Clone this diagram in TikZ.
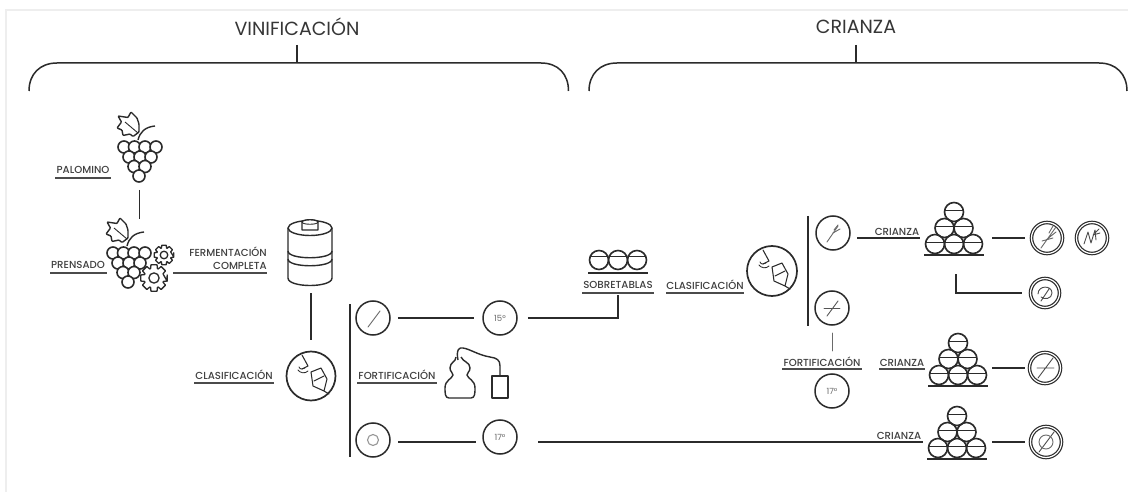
\documentclass[tikz,border=0pt]{standalone}
\usepackage{fontspec}
\setmainfont{Poppins}
\newfontfamily\labfont[UprightFont={* Medium}]{Poppins}
\usetikzlibrary{calc}
\definecolor{ink}{HTML}{2B2B2B}
\definecolor{soft}{HTML}{6A6A6A}
\definecolor{edge}{HTML}{EEEEEE}
\tikzset{
  conn/.style={draw=ink,line width=1.5pt},
  uline/.style={draw=ink!85,line width=1.6pt},
  thin icon/.style={draw=soft,line width=.9pt,line cap=round,line join=round},
  icon/.style={draw=ink,line width=1.4pt,line join=round},
  lab/.style={font=\labfont\fontsize{10.2}{13}\selectfont,text=ink!90,inner sep=0pt},
  ttl/.style={font=\fontsize{19}{22}\selectfont,text=ink!95,inner sep=0pt},
  rnd/.style={circle,draw=ink,line width=1.5pt,minimum size=34pt,inner sep=0pt,font=\fontsize{8.5}{10}\selectfont,text=soft},
  big/.style={circle,draw=ink,line width=1.7pt,minimum size=49pt,inner sep=0pt},
  dbl/.style={circle,draw=ink,line width=1.2pt,minimum size=31pt,inner sep=0pt,double=white,double distance=1.2pt},
  pics/grape/.style={code={
    \draw[icon,rounded corners=.8pt,fill=white] (-1,-15)--(-1,-23)--(-3,-29)--(-9,-35)--(-12,-29.5)--(-22,-31)--(-18.5,-25)--(-23,-19)--(-18,-17)--(-17,-11.5)--(-10,-13)--(-7,-10.5)--cycle;
    \draw[icon,line width=.9pt] (-15,-25)--(-2,-14);
    \draw[icon] (-2,-7) .. controls (0,-15) and (5,-20) .. (15,-21);
    \foreach \px/\py in {-16/0,-5.5/0,5/0,16/0,-11/10,0/10,11/10,-6/19.5,5/19.5,-1/29}
      \draw[icon,line width=1.6pt,fill=white] (\px,\py) circle (6);
  }},
  pics/gear/.style={code={
    \draw[icon,line width=1.3pt] (#1:#1) foreach \i in {0,...,7} { -- (\i*45-13:#1) -- (\i*45+13:#1) -- (\i*45+20:#1*.74) -- (\i*45+25:#1*.74) } -- cycle;
    \draw[icon,line width=1.3pt] (0,0) circle (#1*.38);
  }},
  pics/stack/.style={code={
    \draw[conn,line width=1.8pt] (-30,0)--(30,0);
    \foreach \px/\py in {-19/-11,0/-11,19/-11,-9.5/-27,9.5/-27,0/-43}{
      \draw[icon,line width=1.65pt] (\px,\py) circle (9.5);
      \draw[icon,line width=.75pt] (\px-9,\py-2)--(\px+9,\py-2);
    }
  }},
  pics/nose/.style={code={
    \draw[thin icon,draw=ink,line width=1.05pt] (-9,-21)--(-3,-10)--(-9,-7);
    \draw[thin icon,draw=ink,line width=.85pt] (-13,-6) .. controls (-11,-3) and (-6,-2) .. (-3,-5);
    \draw[thin icon,draw=ink,line width=.85pt] (-12,-9) .. controls (-11,-6) and (-8,-7) .. (-6,-8);
    \draw[thin icon,draw=ink,line width=1.05pt] (0,-4)--(10,-8)--(16,3)--(13,15)--(2,10)--cycle;
    \draw[thin icon,draw=ink,line width=1.05pt] (3,5)--(13,0);
    \draw[thin icon,draw=ink,line width=1.05pt] (13,15)--(18,18);
  }}
}
\begin{document}
\begin{tikzpicture}[x=1pt,y=-1pt]
\useasboundingbox (0,0) rectangle (1128,492);
\fill[white] (0,0) rectangle (1128,492);
\draw[edge,line width=2pt] (6,492)--(6,10)--(1128,10);

% titles and brackets
\node[ttl] (tv) at (297,27) {VINIFICACIÓN};
\node[ttl] (tc) at (856,27) {CRIANZA};
\coordinate (tvs) at (297,45); \coordinate (tvb) at (297,63);
\coordinate (tcs) at (856,45); \coordinate (tcb) at (856,63);
\draw[conn] (tvs)--(tvb);
\draw[conn] (tcs)--(tcb);
\draw[conn] (29,91) .. controls (29,74) and (40,63) .. (57,63) -- (541,63) .. controls (558,63) and (568.5,74) .. (568.5,91);
\draw[conn] (589,91) .. controls (589,74) and (600,63) .. (617,63) -- (1099,63) .. controls (1116,63) and (1127,74) .. (1127,91);

% grapes
\pic at (140,147) {grape};
\pic at (129,253) {grape};
\pic at (164,255) {gear=10};
\pic at (154,278) {gear=13.5};
\coordinate (g1) at (139.5,190); \coordinate (g2) at (139.5,219);
\draw[conn] (g1)--(g2);

% left labels
\node[lab,minimum width=56pt] (lpal) at (83,170) {PALOMINO};
\draw[uline] (55,178)--(111,178);
\node[lab,minimum width=57pt] (lpre) at (78,265) {PRENSADO};
\draw[uline] (50,273)--(107,273);
\node[lab,align=right,anchor=east] (lfer) at (267,258.5) {FERMENTACIÓN\\COMPLETA};
\coordinate (fa) at (173,273); \coordinate (fb) at (267,273);
\draw[uline] (fa)--(fb);

% tank
\coordinate (tank) at (310,228);
\draw[icon] (288,228) -- (288,278) .. controls (288,288) and (332,288) .. (332,278) -- (332,228);
\draw[icon] (310,228) ellipse (22 and 7.5);
\draw[icon] (288,251) .. controls (288,260) and (332,260) .. (332,251);
\draw[icon] (288,259) .. controls (288,268) and (332,268) .. (332,259);
\draw[icon,fill=white] (302,230) -- (302,222) .. controls (302,219) and (318,219) .. (318,222) -- (318,230) -- cycle;
\draw[icon,line width=.9pt] (302,222) .. controls (302,225) and (318,225) .. (318,222);
\coordinate (t1) at (311,293); \coordinate (t2) at (311,340);
\draw[conn] (t1)--(t2);

% first classification
\node[big] (cl1) at (311,376) {};
\pic at (cl1) {nose};
\node[lab,minimum width=80pt] (lcl1) at (234,375) {CLASIFICACIÓN};
\draw[uline] (194,383)--(274,383);
\coordinate (b1a) at (350,304); \coordinate (b1b) at (350,457);
\draw[conn] (b1a)--(b1b);

\node[rnd] (c1) at (373,318) {};
\draw[thin icon] (368,327)--(380,311);
\node[rnd] (t15) at (500,318) {15°};
\draw[conn,shorten <=7pt,shorten >=8pt] (c1)--(t15);
\draw[conn] ([xshift=10pt]t15.east) -- (618,318) -- (618,295);

\node[lab,minimum width=80pt] (lfo1) at (397,375) {FORTIFICACIÓN};
\draw[uline] (357,383)--(437,383);

% still
\draw[icon] (456,357) .. controls (456,362) and (450,362) .. (450,368) .. controls (450,372) and (453,372) .. (453,375) .. controls (452,379) and (445,380) .. (445,388) .. controls (445,393) and (445,398) .. (449,398) -- (471,398) .. controls (475,398) and (475,393) .. (475,388) .. controls (475,380) and (468,379) .. (467,375) .. controls (467,372) and (470,372) .. (470,368) .. controls (470,362) and (463,362) .. (461,357);
\draw[icon] (458,360) .. controls (456,350) and (459,347) .. (463,348) .. controls (470,349) and (478,355) .. (490,357) .. controls (497,358) and (500,360) .. (500,366) -- (500,376);
\draw[icon] (492,376) rectangle (508,398);

\node[rnd] (c3) at (373,440) {};
\draw[thin icon,draw=soft!70,line width=1.1pt] (373,440) circle (5.5);
\node[rnd] (t17) at (500,437) {17°};
\coordinate (c3r) at (398,442); \coordinate (t17l) at (476,442);
\draw[conn] (c3r)--(t17l);
\coordinate (t17r) at (538,442); \coordinate (cr3r) at (923,442);
\draw[conn] (t17r)--(cr3r);

% sobretablas
\foreach \bx in {599,618,637}{
  \draw[icon,line width=1.65pt] (\bx,260) circle (9.5);
  \draw[icon,line width=.75pt] (\bx-9,256.5)--(\bx+9,256.5);
}
\draw[conn,line width=1.8pt] (588,273)--(648,273);
\node[lab,minimum width=72pt] (lsob) at (618,285) {SOBRETABLAS};
\draw[uline] (582,293)--(654,293);
\node[lab,minimum width=78pt] (lcl2) at (705,285) {CLASIFICACIÓN};
\draw[uline] (666,293)--(744,293);
\node[big,minimum size=50pt] (cl2) at (772,271) {};
\pic at (cl2) {nose};
\coordinate (b2a) at (808,216); \coordinate (b2b) at (808,326);
\draw[conn] (b2a)--(b2b);

\node[rnd] (c4) at (833,233) {};
\draw[thin icon] (827,242)--(838,226);
\draw[thin icon] (833,233)--(840,229) (834,230)--(838,225);
\node[rnd] (c5) at (832,308) {};
\draw[thin icon,draw=ink!80] (827,316)--(838,301);
\draw[thin icon,draw=ink!80] (824,308)--(840,308);
\coordinate (f1) at (832,333); \coordinate (f2) at (832,351);
\draw[thin icon,line width=.9pt] (f1)--(f2);
\node[lab,minimum width=80pt] (lfo2) at (822,362) {FORTIFICACIÓN};
\draw[uline] (782,369)--(862,369);
\node[rnd] (t17b) at (832,391) {17°};

% stacks
\pic at (954,255) {stack};
\pic at (958,386) {stack};
\pic at (957,459) {stack};
\node[lab,minimum width=46pt] (lcr1) at (897,232) {CRIANZA};
\node[lab,minimum width=46pt] (lcr2) at (902,363) {CRIANZA};
\draw[uline] (879,369)--(925,369);
\node[lab,minimum width=46pt] (lcr3) at (899,436) {CRIANZA};
\coordinate (c4r) at (857,238); \coordinate (cr1r) at (920,238);
\draw[conn] (c4r)--(cr1r);

% final discs
\node[dbl] (d1) at (1047,238) {};
\draw[thin icon] (1041,248)--(1056,227) (1042,241)--(1053,238) (1046,240)--(1056,232) (1049,233)--(1053,226);
\node[dbl] (d2) at (1092,238) {};
\draw[thin icon,draw=ink!85] (1084,244)--(1088,232)--(1091,243)--(1095,230)--(1096,240) (1093,235)--(1100,233) (1095,233)--(1099,229);
\node[dbl,minimum size=29pt] (d3) at (1045,293) {};
\draw[thin icon,draw=ink!85] (1041,301)--(1049,289) (1038,294) .. controls (1038,285) and (1052,285) .. (1052,293) .. controls (1052,299) and (1044,300) .. (1041,297);
\node[dbl] (d4) at (1045,368) {};
\draw[thin icon,draw=ink!85] (1038,378)--(1053,358) (1037,368)--(1054,368);
\node[dbl] (d5) at (1046,442) {};
\draw[thin icon,draw=ink!85] (1039,452)--(1054,432);
\draw[thin icon] (1046,442) circle (7);

\coordinate (s1a) at (992,238); \coordinate (s1b) at (1025,238);
\draw[conn] (s1a)--(s1b);
\coordinate (s1c) at (956,274); \coordinate (s1d) at (1022,293);
\draw[conn] (s1c)|-(s1d);
\coordinate (s2a) at (992,368); \coordinate (s2b) at (1025,368);
\draw[conn] (s2a)--(s2b);
\coordinate (s3a) at (992,442); \coordinate (s3b) at (1025,442);
\draw[conn] (s3a)--(s3b);
\end{tikzpicture}
\end{document}
